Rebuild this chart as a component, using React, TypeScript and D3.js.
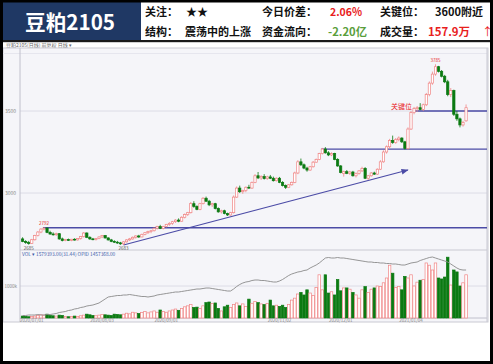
import React from "react";
import * as d3 from "d3";

const opens = [2720,2705,2698,2693,2715,2740,2762,2780,2786,2760,2750,2746,2752,2720,2710,2716,2711,2718,2714,2722,2734,2756,2730,2720,2716,2722,2732,2740,2726,2714,2705,2700,2696,2690,2702,2714,2720,2730,2738,2732,2748,2758,2765,2770,2785,2795,2784,2795,2808,2815,2825,2835,2828,2852,2868,2880,2935,2918,2900,2935,2968,2950,2928,2935,2905,2885,2892,2875,2866,2880,2975,3030,3008,3015,3035,3030,3065,3105,3092,3100,3088,3098,3090,3075,3090,3065,3045,3035,3050,3065,3122,3190,3172,3152,3140,3160,3188,3205,3240,3268,3245,3232,3240,3205,3165,3118,3130,3120,3128,3105,3120,3135,3150,3090,3105,3122,3115,3145,3190,3250,3282,3320,3308,3325,3335,3312,3272,3390,3490,3515,3520,3510,3538,3600,3670,3725,3770,3742,3712,3678,3600,3625,3480,3452,3415,3440];
const highs = [2730,2712,2708,2720,2745,2768,2785,2792,2790,2770,2760,2758,2755,2728,2720,2722,2720,2724,2725,2738,2762,2760,2736,2726,2726,2736,2744,2744,2730,2720,2712,2708,2702,2706,2718,2726,2735,2742,2745,2752,2762,2770,2775,2790,2800,2806,2800,2812,2822,2830,2840,2845,2858,2875,2885,2945,2950,2925,2940,2975,2978,2958,2940,2940,2912,2898,2898,2880,2885,2985,3040,3045,3020,3040,3050,3070,3115,3128,3108,3115,3105,3110,3100,3095,3098,3072,3052,3055,3070,3130,3200,3210,3180,3160,3165,3195,3210,3245,3275,3280,3255,3248,3245,3212,3170,3136,3140,3135,3135,3125,3140,3160,3158,3110,3128,3130,3150,3200,3260,3290,3330,3350,3335,3345,3340,3318,3400,3500,3525,3530,3548,3545,3610,3680,3740,3785,3775,3750,3720,3690,3640,3630,3500,3460,3440,3540];
const lows = [2700,2690,2685,2690,2710,2735,2755,2772,2755,2745,2740,2738,2715,2705,2706,2708,2706,2710,2710,2716,2728,2725,2715,2712,2710,2718,2725,2722,2710,2700,2695,2690,2684,2683,2698,2708,2715,2722,2726,2730,2742,2750,2755,2765,2778,2780,2778,2790,2800,2806,2818,2822,2825,2845,2860,2875,2910,2895,2895,2930,2945,2920,2915,2900,2880,2875,2870,2860,2862,2875,2970,3000,2995,3005,3025,3025,3060,3085,3080,3082,3080,3085,3070,3070,3060,3040,3025,3030,3045,3060,3115,3165,3145,3130,3135,3155,3185,3200,3235,3240,3225,3225,3200,3160,3120,3100,3115,3110,3100,3095,3112,3128,3085,3080,3100,3110,3110,3140,3185,3240,3270,3300,3300,3315,3305,3265,3265,3385,3480,3495,3505,3500,3530,3590,3660,3715,3735,3705,3670,3590,3585,3470,3440,3400,3405,3435];
const closes = [2705,2698,2692,2715,2740,2762,2780,2786,2760,2750,2746,2752,2720,2710,2716,2711,2718,2714,2722,2734,2756,2730,2720,2716,2722,2732,2740,2726,2714,2705,2700,2696,2690,2702,2714,2720,2730,2738,2732,2748,2758,2765,2770,2785,2795,2784,2795,2808,2815,2825,2835,2828,2852,2868,2880,2935,2918,2900,2935,2968,2950,2928,2935,2905,2885,2892,2875,2866,2880,2975,3030,3008,3015,3035,3030,3065,3105,3092,3100,3088,3098,3090,3075,3090,3065,3045,3035,3050,3065,3122,3190,3172,3152,3140,3160,3188,3205,3240,3268,3245,3232,3240,3205,3165,3125,3130,3120,3128,3105,3120,3135,3150,3090,3105,3122,3115,3145,3190,3250,3282,3320,3308,3325,3335,3312,3272,3390,3490,3515,3520,3510,3538,3600,3670,3725,3770,3742,3712,3678,3600,3625,3480,3452,3415,3430,3520];
const volumes = [6,5,4,5,6,8,10,9,12,8,7,6,9,8,5,4,5,6,5,7,9,12,10,8,7,9,11,10,9,8,12,11,10,12,15,13,18,16,14,17,20,16,19,22,18,25,20,18,22,25,28,24,30,35,38,42,33,34,30,38,48,50,45,47,30,22,35,40,33,42,47,38,44,36,59,46,52,48,44,42,45,56,38,40,36,40,33,42,56,62,75,80,72,88,78,70,95,135,88,135,78,82,72,120,85,94,94,90,80,72,62,88,98,80,90,94,100,98,110,125,165,140,95,98,88,130,125,135,100,112,118,120,172,165,150,172,125,122,128,190,103,150,144,100,110,135];
const openInterest = [45,45,46,46,46,47,46,46,47,47,48,49,51,52,53,55,56,58,59,61,62,64,65,66,68,70,74,78,82,83,84,85,85,86,86,87,86,85,84,83,83,82,83,84,86,87,88,89,90,91,92,92,93,94,95,96,97,98,98,99,100,100,99,98,97,96,95,94,94,98,103,107,110,112,113,115,116,116,115,115,114,113,112,112,114,117,121,125,128,130,132,133,135,136,140,143,146,150,155,160,161,160,160,161,160,160,159,158,157,156,155,154,153,152,152,151,151,150,150,149,149,148,148,147,146,146,148,150,151,152,155,157,159,161,162,160,158,156,154,152,148,144,140,137,136,136];

const dateLabels = ["2020/07/01", "2020/08/03", "2020/09/01", "2020/11/02", "2020/12/01", "2021/01/04"];
const dateIndex = [3, 26, 47, 84, 104, 127];
const priceTicks = [3000, 3500];
const levelPrices = [2788, 3268, 3500];
const levelStart = [7, 98, 128];
const trendFrom = { i: 33, p: 2683 };
const trendTo = { i: 126, p: 3140 };
const markHigh = [{ i: 7, text: "2792" }, { i: 135, text: "3785" }];
const markLow = [{ i: 2, text: "2685" }, { i: 33, text: "2683" }];

const headerRow1 = [
  { x: 145, t: "关注：", c: "#111", w: 0 },
  { x: 186, t: "★★", c: "#111", w: 0 },
  { x: 262, t: "今日价差：", c: "#111", w: 0 },
  { x: 330, t: "2.06%", c: "#e8201c", w: 32 },
  { x: 380, t: "关键位：", c: "#111", w: 0 },
  { x: 435, t: "3600附近", c: "#111", w: 48 },
];
const headerRow2 = [
  { x: 145, t: "结构：", c: "#111", w: 0 },
  { x: 185, t: "震荡中的上涨", c: "#111", w: 0 },
  { x: 262, t: "资金流向：", c: "#111", w: 0 },
  { x: 328, t: "-2.20亿", c: "#5a9e3c", w: 39 },
  { x: 380, t: "成交量：", c: "#111", w: 0 },
  { x: 428, t: "157.9万", c: "#e8201c", w: 42 },
];

const UP = "#f08484";
const DOWN = "#0b7a12";
const LINE = "#4b4ba6";

export default function App() {
  const n = closes.length;
  const idx = d3.range(n);
  const x = d3.scaleBand<number>().domain(idx).range([20.5, 20.5 + n * 3.066]).paddingInner(0.25).paddingOuter(0.3);
  const cx = (i: number) => (x(i) as number) + x.bandwidth() / 2;
  const y = d3.scaleLinear().domain([3000, 3500]).range([193, 111]);
  const yv = d3.scaleLinear().domain([0, 100]).range([318, 286]);
  const yo = d3.scaleLinear().domain([40, 160]).range([318, 258]);
  const bw = 2.3;
  const vw = 2.5;
  const right = 487;

  const oiLine = d3.line<number>().x((_, i) => cx(i)).y((d) => yo(d))(openInterest) || "";
  const cjk = "'Noto Sans CJK SC', 'Noto Sans', sans-serif";

  return (
    <svg width={493} height={364} style={{ position: "fixed", left: 0, top: 0, background: "#fff" }} fontFamily={cjk}>
      <defs>
        <marker id="arr" viewBox="0 0 10 10" refX="9" refY="5" markerWidth="6" markerHeight="6" orient="auto">
          <path d="M0,1 L10,5 L0,9 z" fill={LINE} />
        </marker>
      </defs>
      {/* header */}
      <rect x={0} y={0} width={493} height={41} fill="#fff" />
      <rect x={0} y={0} width={141} height={41} fill="#1f3864" />
      <text x={25} y={30} fill="#fff" fontSize={21} fontWeight="bold" textLength={90} lengthAdjust="spacingAndGlyphs">豆粕2105</text>
      {headerRow1.map((d, k) => (
        <text key={"r1" + k} x={d.x} y={16} fill={d.c} fontSize={11} fontWeight="bold"
          {...(d.w ? { textLength: d.w, lengthAdjust: "spacingAndGlyphs" } : {})}>{d.t}</text>
      ))}
      {headerRow2.map((d, k) => (
        <text key={"r2" + k} x={d.x} y={35.5} fill={d.c} fontSize={11} fontWeight="bold"
          {...(d.w ? { textLength: d.w, lengthAdjust: "spacingAndGlyphs" } : {})}>{d.t}</text>
      ))}
      <text x={482} y={35.5} fill="#e8201c" fontSize={11}>↑</text>
      <rect x={0} y={40} width={493} height={2.2} fill="#1a1a1a" />
      <text x={6} y={46.5} fontSize={5} fill="#666">豆粕2105(日线)  前复权  日线 ▾</text>

      {/* chart panel */}
      <rect x={3} y={48} width={485} height={274} fill="#f5f5f9" stroke="#c9c9d2" strokeWidth={1} />
      <line x1={3} x2={right} y1={53.5} y2={53.5} stroke="#e6e6ee" />
      {priceTicks.map((p) => (
        <g key={"pt" + p}>
          <line x1={20} x2={right} y1={y(p)} y2={y(p)} stroke="#dcdce6" />
          <text x={16} y={y(p) + 1.5} fontSize={5} fill="#888" textAnchor="end">{p}</text>
        </g>
      ))}
      <line x1={20} x2={right} y1={250} y2={250} stroke="#c9c9d2" />
      <line x1={20} x2={right} y1={yv(100)} y2={yv(100)} stroke="#dcdce6" />
      <text x={17} y={yv(100) + 1.5} fontSize={4.5} fill="#888" textAnchor="end">1000k</text>
      <line x1={20} x2={right} y1={yv(0)} y2={yv(0)} stroke="#c0c0cc" />
      <line x1={20} x2={20} y1={48} y2={322} stroke="#c0c0cc" />
      <line x1={right} x2={right} y1={48} y2={322} stroke="#c9c9d2" />

      {/* levels */}
      {levelPrices.map((p, k) => (
        <line key={"lv" + k} x1={cx(levelStart[k]) - 1} x2={right} y1={y(p)} y2={y(p)} stroke={LINE} strokeWidth={1.3} />
      ))}
      <text x={cx(levelStart[2]) - 2} y={y(levelPrices[2]) - 2.5} fontSize={7} fill="#e8201c" textAnchor="end">关键位</text>
      <line x1={cx(trendFrom.i)} y1={y(trendFrom.p)} x2={cx(trendTo.i)} y2={y(trendTo.p)} stroke={LINE} strokeWidth={1.2} markerEnd="url(#arr)" />

      {/* candles */}
      {idx.map((i) => {
        const up = closes[i] >= opens[i];
        const c = up ? UP : DOWN;
        const top = y(Math.max(opens[i], closes[i]));
        const bot = y(Math.min(opens[i], closes[i]));
        return (
          <g key={"c" + i}>
            <line x1={cx(i)} x2={cx(i)} y1={y(highs[i])} y2={y(lows[i])} stroke={c} strokeWidth={0.8} />
            <rect x={cx(i) - bw / 2} y={top} width={bw} height={Math.max(0.8, bot - top)} fill={up ? "#fff" : DOWN} stroke={c} strokeWidth={0.7} />
          </g>
        );
      })}
      {markHigh.map((m, k) => (
        <text key={"mh" + k} x={cx(m.i)} y={y(highs[m.i]) - 2} fontSize={4.5} fill="#e8201c" textAnchor="middle">{m.text}</text>
      ))}
      {markLow.map((m, k) => (
        <text key={"ml" + k} x={cx(m.i)} y={y(lows[m.i]) + 5} fontSize={4.5} fill="#555" textAnchor="middle">{m.text}</text>
      ))}

      {/* volume */}
      <text x={22} y={255.5} fontSize={4.8} fill="#3c5aa8">VOL ▾  1579393.00(31.44)  OPID 1457368.00</text>
      {idx.map((i) => {
        const up = closes[i] >= opens[i];
        const t = yv(volumes[i]);
        return (
          <rect key={"v" + i} x={cx(i) - vw / 2} y={t} width={vw} height={yv(0) - t} fill={up ? "#fff" : DOWN} stroke={up ? UP : DOWN} strokeWidth={0.7} />
        );
      })}
      <path d={oiLine} fill="none" stroke="#8a8a8a" strokeWidth={0.9} />
      {dateIndex.map((di, k) => (
        <text key={"d" + k} x={cx(di)} y={321.5} fontSize={4.5} fill="#888" textAnchor="middle">{dateLabels[k]}</text>
      ))}

      {/* frame */}
      <rect x={1.5} y={1} width={490} height={361.5} fill="none" stroke="#000" strokeWidth={3} />
    </svg>
  );
}
